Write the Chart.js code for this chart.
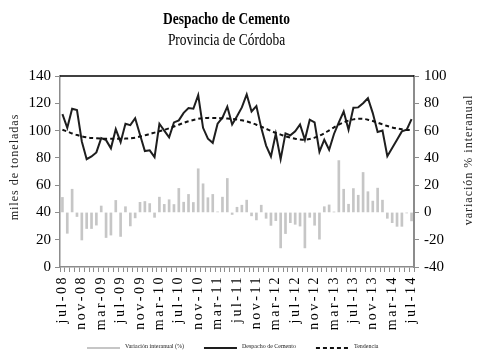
<!DOCTYPE html>
<html>
<head>
<meta charset="utf-8">
<script src="https://cdn.jsdelivr.net/npm/chart.js@4.4.1/dist/chart.umd.min.js"></script>
<style>
  html, body { margin: 0; padding: 0; background: #fff; }
  canvas { display: block; }
</style>
</head>
<body>
<canvas id="chart" width="477" height="350"></canvas>
<script>
// Monthly categories, jul-08 .. jul-14
const CATEGORIES = [
  'jul-08','ago-08','sep-08','oct-08','nov-08','dic-08',
  'ene-09','feb-09','mar-09','abr-09','may-09','jun-09','jul-09','ago-09','sep-09','oct-09','nov-09','dic-09',
  'ene-10','feb-10','mar-10','abr-10','may-10','jun-10','jul-10','ago-10','sep-10','oct-10','nov-10','dic-10',
  'ene-11','feb-11','mar-11','abr-11','may-11','jun-11','jul-11','ago-11','sep-11','oct-11','nov-11','dic-11',
  'ene-12','feb-12','mar-12','abr-12','may-12','jun-12','jul-12','ago-12','sep-12','oct-12','nov-12','dic-12',
  'ene-13','feb-13','mar-13','abr-13','may-13','jun-13','jul-13','ago-13','sep-13','oct-13','nov-13','dic-13',
  'ene-14','feb-14','mar-14','abr-14','may-14','jun-14','jul-14'
];

// Labels printed under the axis
const TICK_LABELS = [
  'jul-08','nov-08','mar-09','jul-09','nov-09','mar-10','jul-10','nov-10','mar-11',
  'jul-11','nov-11','mar-12','jul-12','nov-12','mar-13','jul-13','nov-13','mar-14','jul-14'
];

// Variación interanual (%) – right axis
const VARIACION = [
  11, -15.3, 17, -3, -20.2, -11.8,
  -11.8, -9.3, 4.7, -18.4, -16.6, 8.8, -17.6, 4.2, -9.9, -4, 7.4, 8,
  6.5, -3.6, 11.2, 5.9, 9.3, 5.8, 17.6, 7.5, 13.2, 7.3, 32, 21,
  10.8, 13.2, 0.4, 11.2, 24.9, -1.5, 3.8, 5.3, 9, -2.5, -5.5, 5.3,
  -4.3, -9.5, -6, -26, -15.5, -7.5, -8.7, -10, -26, -3.6, -9.4, -19.6,
  4.2, 5.5, 0.3, 38, 17, 6, 17.5, 12.6, 29.3, 15.2, 8.3, 17.8,
  9, -4.3, -7.5, -10.2, -10.2, -0.4, -6.2
];

// Despacho de cemento (miles de toneladas) – left axis
const DESPACHO = [
  112, 102, 116, 115, 92, 79,
  81, 84, 94.5, 93, 87, 101, 91.5, 105, 104, 109, 97, 85,
  85.5, 80.5, 105, 100, 95, 106, 107.5, 113, 116.5, 116, 126, 102,
  94, 91, 105, 109.5, 117.5, 104.5, 110.5, 117, 126.5, 114, 118, 102,
  89, 81, 97.7, 79, 98, 96.5, 99.5, 104.5, 93.3, 108, 106, 84.5,
  93.3, 86, 97.5, 106, 114, 100.6, 116.7, 117, 120, 123.7, 112.8, 99,
  100, 81.2, 87.3, 93.3, 99.4, 100.6, 108.4
];

// Tendencia – left axis
const TENDENCIA = [
  100.6, 99.3, 97.9, 96.7, 95.8, 95.1,
  94.6, 94.3, 94.1, 94, 94, 94, 94, 94.1, 94.3, 94.8, 95.6, 96.5,
  97.5, 98.5, 99.5, 100.5, 101.7, 103, 104.3, 105.6, 106.8, 107.8, 108.6, 109.1,
  109.3, 109.3, 109.2, 109, 108.8, 108.5, 108.1, 107.5, 106.7, 105.6, 104.3, 102.8,
  101.3, 99.8, 98.3, 97, 95.8, 94.8, 94, 93.5, 93.3, 93.8, 94.8, 96.2,
  98, 100.2, 102.4, 104.4, 106, 107.3, 108.2, 108.6, 108.6, 108, 107, 105.8,
  104.5, 103.3, 102.3, 101.5, 100.9, 100.5, 100.3
];

const SERIES_NAMES = ['Variación interanual (%)', 'Despacho de Cemento', 'Tendencia'];
const TITLE = 'Despacho de Cemento';
const SUBTITLE = 'Provincia de Córdoba';
const LEFT_AXIS_TITLE = 'miles de toneladas';
const RIGHT_AXIS_TITLE = 'variación % interanual';

const SERIF = '"Liberation Serif", "Times New Roman", serif';
const AXIS_GRAY = '#8c8c8c';

// Titles, axis titles, rotated month labels, top frame line and legend
const decor = {
  id: 'decor',
  afterDraw(chart) {
    const ctx = chart.ctx;
    const area = chart.chartArea;

    // frame line along the top of the plot
    ctx.save();
    ctx.strokeStyle = '#000';
    ctx.lineWidth = 1.5;
    ctx.beginPath();
    ctx.moveTo(area.left, area.top);
    ctx.lineTo(area.right, area.top);
    ctx.stroke();
    ctx.restore();

    // chart title and subtitle (slightly condensed type)
    ctx.save();
    ctx.fillStyle = '#000';
    ctx.textAlign = 'center';
    ctx.textBaseline = 'middle';
    ctx.translate(226.5, 0);
    ctx.scale(0.84, 1);
    ctx.font = 'bold 16px ' + SERIF;
    ctx.fillText(TITLE, 0, 20);
    ctx.font = '16px ' + SERIF;
    ctx.fillText(SUBTITLE, 0, 41);
    ctx.restore();

    // axis titles, both reading bottom to top
    const axisTitle = (text, x, y) => {
      ctx.save();
      ctx.translate(x, y);
      ctx.rotate(-Math.PI / 2);
      ctx.font = '12px ' + SERIF;
      ctx.letterSpacing = '1px';
      ctx.fillStyle = '#222';
      ctx.textAlign = 'center';
      ctx.textBaseline = 'middle';
      ctx.fillText(text, 0, 0);
      ctx.restore();
    };
    axisTitle(LEFT_AXIS_TITLE, 15, 167);
    axisTitle(RIGHT_AXIS_TITLE, 469, 160);

    // month labels, every fourth category
    const xs = chart.scales.x;
    ctx.save();
    ctx.font = '14px ' + SERIF;
    ctx.letterSpacing = '2.5px';
    ctx.fillStyle = '#000';
    ctx.textAlign = 'right';
    ctx.textBaseline = 'middle';
    CATEGORIES.forEach((lab, i) => {
      if (!TICK_LABELS.includes(lab)) return;
      const x = xs.getPixelForValue(i);
      ctx.save();
      ctx.translate(x, area.bottom + 8);
      ctx.rotate(-Math.PI / 2);
      ctx.fillText(lab, 0, 0);
      ctx.restore();
    });
    ctx.restore();

    // legend: line sample + name, in series order
    const ordered = [2, 0, 1].map(k => chart.data.datasets[k]);
    let lx = 87;
    const ly = 348;
    ctx.save();
    ctx.font = '6px ' + SERIF;
    ctx.textBaseline = 'middle';
    ctx.textAlign = 'left';
    ordered.forEach(ds => {
      ctx.save();
      ctx.strokeStyle = ds.type === 'bar' ? ds.backgroundColor : ds.borderColor;
      ctx.lineWidth = 2;
      ctx.setLineDash(ds.borderDash || []);
      ctx.beginPath();
      ctx.moveTo(lx, ly);
      ctx.lineTo(lx + 33, ly);
      ctx.stroke();
      ctx.restore();
      ctx.fillStyle = '#222';
      ctx.fillText(ds.label, lx + 38, ly - 2);
      lx += 38 + ctx.measureText(ds.label).width + 20;
    });
    ctx.restore();
  }
};

const fitWidth = w => scale => { scale.width = w; };

new Chart(document.getElementById('chart'), {
  type: 'bar',
  data: {
    labels: CATEGORIES,
    datasets: [
      {
        type: 'line',
        label: SERIES_NAMES[1],
        data: DESPACHO,
        yAxisID: 'y',
        borderColor: '#1e1e1e',
        borderWidth: 2,
        pointRadius: 0,
        tension: 0,
        order: 2
      },
      {
        type: 'line',
        label: SERIES_NAMES[2],
        data: TENDENCIA,
        yAxisID: 'y',
        borderColor: '#111',
        borderWidth: 2,
        borderDash: [4, 3],
        pointRadius: 0,
        tension: 0.3,
        order: 1
      },
      {
        type: 'bar',
        label: SERIES_NAMES[0],
        data: VARIACION,
        yAxisID: 'y1',
        backgroundColor: '#c6c6c6',
        barThickness: 2,
        order: 3
      }
    ]
  },
  options: {
    responsive: false,
    animation: false,
    devicePixelRatio: 1,
    layout: { padding: { top: 76, left: 0, right: 0, bottom: 0 } },
    plugins: {
      legend: { display: false },
      title: { display: false },
      tooltip: { enabled: false }
    },
    scales: {
      x: {
        offset: true,
        ticks: { display: false, autoSkip: false },
        grid: { offset: true, drawOnChartArea: false, color: AXIS_GRAY, tickLength: 5, lineWidth: 1 },
        border: { color: AXIS_GRAY, width: 1.5 },
        afterFit: s => { s.height = 83; }
      },
      y: {
        position: 'left',
        min: 0,
        max: 140,
        ticks: { stepSize: 20, color: '#000', font: { family: SERIF, size: 15 }, padding: 4 },
        grid: { drawOnChartArea: false, color: AXIS_GRAY, tickLength: 5 },
        border: { color: AXIS_GRAY, width: 1.5 },
        afterFit: fitWidth(60)
      },
      y1: {
        position: 'right',
        min: -40,
        max: 100,
        ticks: { stepSize: 20, color: '#000', font: { family: SERIF, size: 15 }, padding: 5 },
        grid: { drawOnChartArea: false, color: AXIS_GRAY, tickLength: 5 },
        border: { color: AXIS_GRAY, width: 2 },
        afterFit: fitWidth(63)
      }
    }
  },
  plugins: [decor]
});
</script>
</body>
</html>
